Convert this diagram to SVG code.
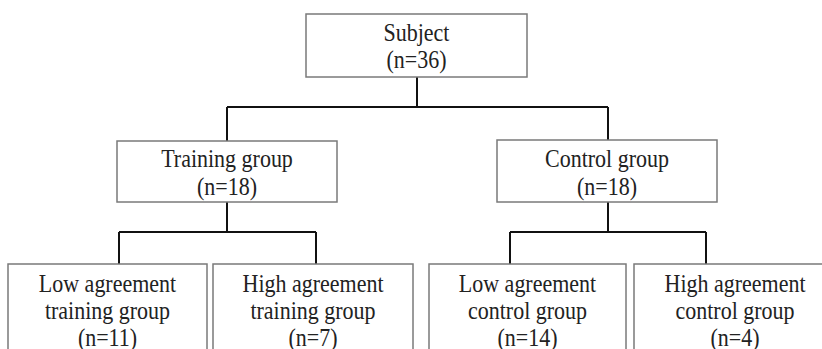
<svg xmlns="http://www.w3.org/2000/svg" width="822" height="349" viewBox="0 0 822 349">
<style>
.box{fill:#fff;stroke:#7a7a7a;stroke-width:1.5}
.t{font-family:"Liberation Serif","Times New Roman",serif;font-size:22px;fill:#222;text-anchor:middle}
.c{fill:none;stroke:#111;stroke-width:2}
</style>
<rect width="822" height="349" fill="#fff"/>
<g id="connectors">
<path class="c" d="M417 77V107M227 107H608M227 107V141M608 107V140"/>
<path class="c" d="M227 202V232M119 232H316M119 232V264M316 232V264"/>
<path class="c" d="M608 202V232M510 232H706M510 232V264M706 232V264"/>
</g>
<g id="subject">
<rect class="box" x="306" y="14" width="221" height="63"/>
<text class="t" transform="translate(416.5 41) scale(1 1.1)">Subject</text>
<text class="t" transform="translate(416.5 68) scale(1 1.1)">(n=36)</text>
</g>
<g id="training">
<rect class="box" x="117" y="141" width="220" height="61"/>
<text class="t" transform="translate(227 167) scale(1 1.1)">Training group</text>
<text class="t" transform="translate(227 195) scale(1 1.1)">(n=18)</text>
</g>
<g id="control">
<rect class="box" x="497" y="140" width="220" height="62"/>
<text class="t" transform="translate(607 167) scale(1 1.1)">Control group</text>
<text class="t" transform="translate(607 195) scale(1 1.1)">(n=18)</text>
</g>
<g id="low-training">
<rect class="box" x="8" y="264" width="199" height="100"/>
<text class="t" transform="translate(107.5 292) scale(1 1.1)">Low agreement</text>
<text class="t" transform="translate(107.5 319) scale(1 1.1)">training group</text>
<text class="t" transform="translate(107.5 346) scale(1 1.1)">(n=11)</text>
</g>
<g id="high-training">
<rect class="box" x="213" y="264" width="200" height="100"/>
<text class="t" transform="translate(313 292) scale(1 1.1)">High agreement</text>
<text class="t" transform="translate(313 319) scale(1 1.1)">training group</text>
<text class="t" transform="translate(313 346) scale(1 1.1)">(n=7)</text>
</g>
<g id="low-control">
<rect class="box" x="429" y="264" width="197" height="100"/>
<text class="t" transform="translate(527.5 292) scale(1 1.1)">Low agreement</text>
<text class="t" transform="translate(527.5 319) scale(1 1.1)">control group</text>
<text class="t" transform="translate(527.5 346) scale(1 1.1)">(n=14)</text>
</g>
<g id="high-control">
<rect class="box" x="634" y="264" width="202" height="100"/>
<text class="t" transform="translate(735 292) scale(1 1.1)">High agreement</text>
<text class="t" transform="translate(735 319) scale(1 1.1)">control group</text>
<text class="t" transform="translate(735 346) scale(1 1.1)">(n=4)</text>
</g>
</svg>
